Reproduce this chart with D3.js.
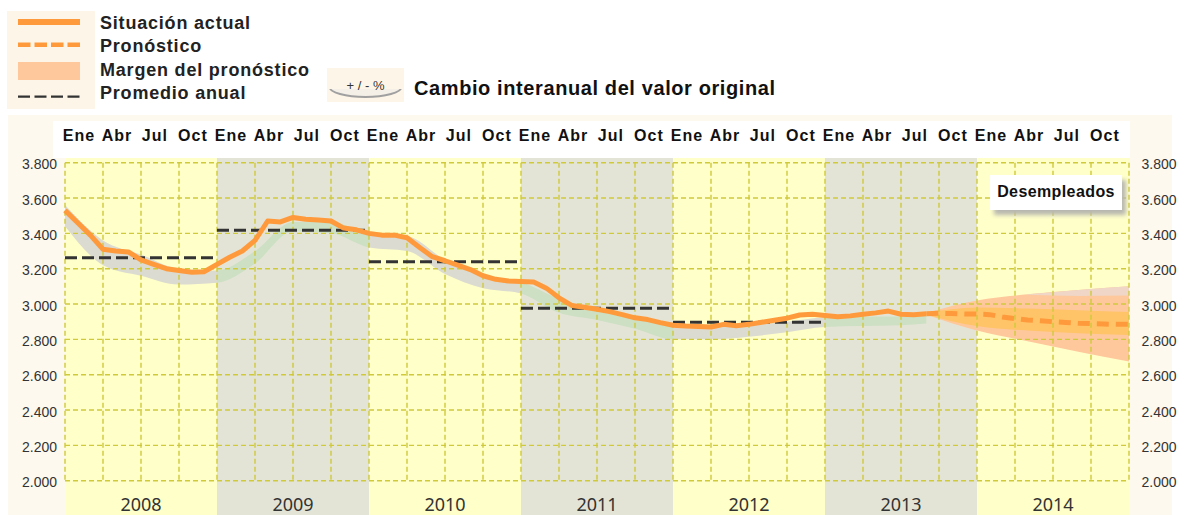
<!DOCTYPE html>
<html>
<head>
<meta charset="utf-8">
<script src="https://cdn.jsdelivr.net/npm/d3@7"></script>
<style>
  body { margin: 0; background: #fff; }
  svg { display: block; }
</style>
</head>
<body>
<div id="chart"></div>
<script>
// ---- data (miles de desempleados) ----
const years = [2008, 2009, 2010, 2011, 2012, 2013, 2014];
const monthLabels = ["Ene", "Abr", "Jul", "Oct"];
const yTicks = [2000, 2200, 2400, 2600, 2800, 3000, 3200, 3400, 3600, 3800];

// Situación actual, mensual desde Ene 2008 (mes 0) hasta Sep 2013 (mes 68)
const actual = [
  3530, 3460, 3390, 3310, 3300, 3295, 3250, 3225, 3200, 3190, 3180, 3183,
  3225, 3265, 3300, 3360, 3470, 3465, 3490, 3480, 3475, 3470, 3430, 3420,
  3400, 3390, 3390, 3375, 3320, 3268, 3245, 3220, 3195, 3160, 3140, 3130,
  3128, 3125, 3090, 3035, 2992, 2982, 2970, 2957, 2940, 2922, 2912, 2895,
  2880, 2875, 2873, 2870, 2885, 2877, 2885, 2897, 2908, 2920, 2938, 2942,
  2935, 2928, 2933, 2942, 2950, 2960, 2942, 2940, 2945
];

// Pronóstico, mensual desde mes 68 hasta mes 84 (fin 2014)
const forecastStart = 68;
const forecast = [2945, 2948, 2946, 2944, 2943, 2940, 2927, 2918, 2910, 2905, 2900, 2896, 2891, 2889, 2887, 2885, 2885];

// Margen del pronóstico
const marginMonths = [68, 72, 76, 80, 84];
const outerHi = [2950, 3020, 3055, 3080, 3100];
const outerLo = [2940, 2850, 2790, 2730, 2675];
const innerHi = [2950, 2980, 2975, 2965, 2955];
const innerLo = [2940, 2875, 2850, 2835, 2825];
const paleMonths = [76, 80, 84];
const paleHi = [3055, 3080, 3100];
const paleLo = [3052, 3045, 3048];

// Banda de tendencia (sombra bajo la línea)
const trendMonths = [0, 3, 6, 9, 12, 15, 18, 21, 24, 27, 30, 33, 36, 39, 42, 45, 48, 51, 54, 57, 60, 63, 66, 68];
const trendHi = [3560, 3360, 3280, 3200, 3190, 3300, 3465, 3465, 3400, 3385, 3250, 3160, 3125, 3030, 2965, 2920, 2880, 2870, 2880, 2900, 2925, 2930, 2930, 2932];
const trendLo = [3440, 3220, 3160, 3110, 3120, 3230, 3410, 3400, 3320, 3300, 3170, 3090, 3060, 2950, 2910, 2860, 2800, 2800, 2815, 2840, 2870, 2875, 2880, 2890];

// Promedio anual
const avgYears = [2008, 2009, 2010, 2011, 2012];
const avgValues = [3262, 3417, 3240, 2976, 2897];

// ---- chart ----
const W = 1184, H = 515;
const orange = "#ff9a3c";
const svg = d3.select("#chart").append("svg").attr("width", W).attr("height", H);

const x = d3.scaleLinear().domain([0, 84]).range([65, 1129]);
const y = d3.scaleLinear().domain([2000, 3800]).range([480.7, 162.7]);
const loc = d3.formatLocale({ decimal: ",", thousands: ".", grouping: [3], currency: ["", "€"] });
const fmt = loc.format(",");

const defs = svg.append("defs");
defs.append("filter").attr("id", "blur").append("feGaussianBlur").attr("stdDeviation", 2);
["even", "odd"].forEach((k, p) => {
  defs.append("clipPath").attr("id", "clip-" + k)
    .selectAll("rect").data(years.filter((d, i) => i % 2 === p)).join("rect")
    .attr("x", d => x((d - 2008) * 12)).attr("y", 150)
    .attr("width", x(12) - x(0)).attr("height", 340);
});

// fondo
svg.append("rect").attr("x", 8).attr("y", 115).attr("width", 1164).attr("height", 400).attr("fill", "#fdf9ef");
svg.append("rect").attr("x", 53).attr("y", 121).attr("width", 1077).attr("height", 37).attr("fill", "#fff");
svg.selectAll(".yearband").data(years).join("rect")
  .attr("x", d => x((d - 2008) * 12)).attr("y", 158)
  .attr("width", x(12) - x(0)).attr("height", H - 158)
  .attr("fill", (d, i) => i % 2 ? "#e4e4d6" : "#ffffc9");

// banda de tendencia
const trendData = trendMonths.map((m, i) => ({ m, hi: trendHi[i], lo: trendLo[i] }));
const trendArea = d3.area().x(d => x(d.m)).y0(d => y(d.lo)).y1(d => y(d.hi)).curve(d3.curveMonotoneX);
svg.append("path").datum(trendData).attr("d", trendArea).attr("fill", "#dcdbd1").attr("clip-path", "url(#clip-even)");
svg.append("path").datum(trendData).attr("d", trendArea).attr("fill", "#cde0c4").attr("clip-path", "url(#clip-odd)");

// margen del pronóstico
const band = (ms, hi, lo) => ms.map((m, i) => ({ m, hi: hi[i], lo: lo[i] }));
svg.append("path").datum(band(marginMonths, outerHi, outerLo)).attr("d", trendArea).attr("fill", "#fec89c");
svg.append("path").datum(band(paleMonths, paleHi, paleLo)).attr("d", trendArea).attr("fill", "#efd6c6");
svg.append("path").datum(band(marginMonths, innerHi, innerLo)).attr("d", trendArea).attr("fill", "#ffc468");

// rejilla
const grid = svg.append("g").attr("stroke", "#cfc93c").attr("stroke-width", 1.4).attr("stroke-dasharray", "5,3");
grid.selectAll(".h").data(yTicks).join("line")
  .attr("x1", x(0)).attr("x2", x(84)).attr("y1", d => y(d)).attr("y2", d => y(d));
grid.selectAll(".v").data(d3.range(0, 85, 3)).join("line")
  .attr("x1", d => x(d)).attr("x2", d => x(d)).attr("y1", y(3800)).attr("y2", y(2000));

// ejes Y
const yl = svg.append("g").attr("transform", `translate(${x(0)},1.5)`)
  .call(d3.axisLeft(y).tickValues(yTicks).tickFormat(fmt).tickSize(0).tickPadding(8));
const yr = svg.append("g").attr("transform", `translate(${x(84)},1.5)`)
  .call(d3.axisRight(y).tickValues(yTicks).tickFormat(fmt).tickSize(0).tickPadding(12.5));
[yl, yr].forEach(g => {
  g.select(".domain").remove();
  g.selectAll("text").attr("font-family", "Liberation Sans, Arial, sans-serif").attr("font-size", 14).attr("fill", "#333");
});

// meses (arriba)
const monthData = [];
years.forEach((yy, i) => monthLabels.forEach((lab, q) => monthData.push({ m: i * 12 + q * 3, lab })));
svg.selectAll(".month").data(monthData).join("text")
  .attr("x", d => Math.max(x(d.m + 1.1), 68)).attr("y", 141)
  .attr("text-anchor", "middle")
  .attr("font-family", "Liberation Sans, Arial, sans-serif").attr("font-weight", "bold")
  .attr("font-size", 16).attr("letter-spacing", 1).attr("fill", "#111").text(d => d.lab);

// años (abajo)
svg.selectAll(".year").data(years).join("text")
  .attr("x", d => x((d - 2008) * 12 + 6)).attr("y", 511)
  .attr("text-anchor", "middle")
  .attr("font-family", "Noto Sans, Open Sans, sans-serif").attr("font-size", 18)
  .attr("fill", "#333").text(d => d);

// promedio anual
svg.selectAll(".avg").data(avgYears).join("line")
  .attr("x1", d => x((d - 2008) * 12)).attr("x2", d => x((d - 2008) * 12 + 12))
  .attr("y1", (d, i) => y(avgValues[i])).attr("y2", (d, i) => y(avgValues[i]))
  .attr("stroke", "#333").attr("stroke-width", 3).attr("stroke-dasharray", "12,5");

// situación actual
svg.append("path").datum(actual)
  .attr("d", d3.line().x((d, i) => x(i)).y(d => y(d)))
  .attr("fill", "none").attr("stroke", orange).attr("stroke-width", 5)
  .attr("stroke-linejoin", "round");

// pronóstico
svg.append("path").datum(forecast)
  .attr("d", d3.line().x((d, i) => x(forecastStart + i)).y(d => y(d)))
  .attr("fill", "none").attr("stroke", orange).attr("stroke-width", 5)
  .attr("stroke-dasharray", "12,7");

// etiqueta Desempleados
const tag = svg.append("g").attr("transform", "translate(990,175)");
tag.append("rect").attr("x", 4).attr("y", 5).attr("width", 132).attr("height", 35)
  .attr("fill", "#b8b8b0").attr("filter", "url(#blur)");
tag.append("rect").attr("width", 132).attr("height", 35).attr("fill", "#fff");
tag.append("text").attr("x", 66).attr("y", 21.5).attr("text-anchor", "middle")
  .attr("font-family", "Liberation Sans, Arial, sans-serif").attr("font-weight", "bold")
  .attr("font-size", 16).attr("letter-spacing", 0.4).attr("fill", "#111").text("Desempleados");

// leyenda
const leg = svg.append("g");
leg.append("rect").attr("x", 7).attr("y", 11).attr("width", 88).attr("height", 98).attr("fill", "#fdf6e8");
leg.append("line").attr("x1", 18).attr("x2", 80).attr("y1", 22).attr("y2", 22)
  .attr("stroke", orange).attr("stroke-width", 6);
leg.append("line").attr("x1", 18).attr("x2", 80).attr("y1", 44.7).attr("y2", 44.7)
  .attr("stroke", orange).attr("stroke-width", 4.5).attr("stroke-dasharray", "12.5,4");
leg.append("rect").attr("x", 18).attr("y", 62).attr("width", 62).attr("height", 18).attr("fill", "#fec89c");
leg.append("line").attr("x1", 18).attr("x2", 80).attr("y1", 96.7).attr("y2", 96.7)
  .attr("stroke", "#333").attr("stroke-width", 2.2).attr("stroke-dasharray", "12,4.5");
const legendTexts = ["Situación actual", "Pronóstico", "Margen del pronóstico", "Promedio anual"];
leg.selectAll(".lt").data(legendTexts).join("text")
  .attr("x", 100).attr("y", (d, i) => 29 + i * 23.3)
  .attr("font-family", "Liberation Sans, Arial, sans-serif").attr("font-weight", "bold")
  .attr("font-size", 18).attr("letter-spacing", 0.8).attr("fill", "#222").text(d => d);

// botón +/- %
const badge = svg.append("g").attr("transform", "translate(327,68)");
badge.append("rect").attr("width", 77).attr("height", 34).attr("fill", "#fdf6e8");
badge.append("ellipse").attr("cx", 38.5).attr("cy", 19).attr("rx", 36).attr("ry", 10)
  .attr("fill", "#f4f0e8").attr("stroke", "#a0a0a0").attr("stroke-width", 2);
badge.append("rect").attr("x", 0).attr("y", 4).attr("width", 77).attr("height", 17).attr("fill", "#fdf6e8");
badge.append("text").attr("x", 38.5).attr("y", 22).attr("text-anchor", "middle")
  .attr("font-family", "Liberation Sans, Arial, sans-serif").attr("font-size", 13)
  .attr("fill", "#333").text("+ / - %");
svg.append("text").attr("x", 414).attr("y", 95)
  .attr("font-family", "Liberation Sans, Arial, sans-serif").attr("font-weight", "bold")
  .attr("font-size", 20).attr("letter-spacing", 0.6).attr("fill", "#111")
  .text("Cambio interanual del valor original");
</script>
</body>
</html>
